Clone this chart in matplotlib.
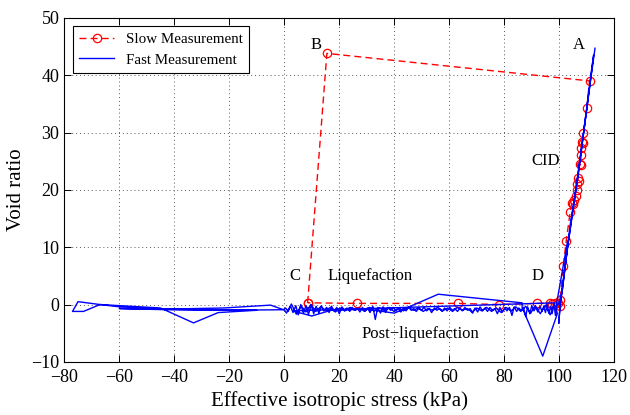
import numpy as np
import matplotlib.pyplot as plt

plt.rcParams['font.family'] = ['Liberation Serif', 'DejaVu Serif']

# slow measurement (red dashed, circles)
slow_x = [8.5, 15.5, 111.0, 110.0, 108.8, 108.3, 108.6, 108.0, 107.8, 108.0, 107.5,
          106.8, 107.0, 106.5, 106.3, 106.0, 105.5, 105.0, 104.5, 104.0, 102.5,
          101.5, 100.3, 100.2, 99.5, 98.5, 97.5, 96.5, 92.0, 78.0, 63.0, 26.5, 8.5]
slow_y = [0.3, 43.8, 39.0, 34.2, 30.0, 28.3, 28.2, 27.3, 26.0, 24.3, 24.5,
          22.0, 21.5, 21.0, 20.0, 19.0, 18.3, 17.5, 17.7, 16.2, 11.0,
          6.8, 0.8, -0.3, 0.3, 0.2, 0.1, 0.2, 0.2, 0.0, 0.2, 0.2, 0.3]

# fast measurement (blue solid)
steep_x = [113.0, 110.5, 108.0, 106.0, 104.5, 102.5, 100.5, 99.8, 100.2, 103.0,
           105.5, 107.5, 110.0, 112.5, 111.5, 107.0, 104.0, 101.0, 99.6]
steep_y = [44.7, 36.0, 27.0, 20.0, 15.0, 8.0, 1.0, -3.3, -1.0, 10.0,
           18.0, 25.0, 34.0, 43.5, 40.0, 23.0, 14.0, 2.0, 0.0]

band_x = [99.2, 98.6, 98.1, 97.4, 96.9, 96.2, 95.6, 95.0, 94.3, 93.7,
          93.0, 92.2, 91.5, 90.8, 90.0, 89.3, 88.5, 87.8, 87.0, 86.1,
          85.3, 84.5, 83.6, 82.8, 81.9, 81.0, 80.2, 79.3, 78.4, 77.5,
          76.6, 75.7, 74.8, 73.9, 73.0, 72.1, 71.2, 70.3, 69.4, 68.5,
          67.6, 66.6, 65.7, 64.8, 63.9, 63.0, 62.0, 61.1, 60.2, 59.2,
          58.3, 57.4, 56.4, 55.5, 54.6, 53.6, 52.7, 51.8, 50.8, 49.9,
          49.0, 48.0, 47.1, 46.2, 45.2, 44.3, 43.4, 42.4, 41.5, 40.6,
          39.6, 38.7, 37.8, 36.8, 35.9, 35.0, 34.0, 33.1, 32.2, 31.2,
          30.3, 29.4, 28.4, 27.5, 26.6, 25.6, 24.7, 23.8, 22.8, 21.9,
          21.0, 20.0, 19.1, 18.2, 17.2, 16.3, 15.4, 14.4, 13.5, 12.6,
          11.6, 10.7, 9.8, 8.8, 7.9, 7.0, 6.0, 5.1, 4.2, 3.2,
          2.3, 1.4, 0.5, -0.3]
band_y = [-0.2, -1.9, 0.1, -1.6, -0.3, -1.5, 0.2, -1.4, -0.4, -1.2,
          -0.3, -1.3, -0.5, -1.1, -0.2, -1.6, -0.4, -2.1, -0.5, -1.0,
          -0.6, -1.2, -0.4, -1.9, -0.5, -1.1, -0.6, -1.3, -0.5, -1.6,
          -0.7, -1.0, -0.5, -1.2, -0.6, -1.1, -0.4, -1.3, -0.6, -1.5,
          -0.7, -1.0, -0.5, -1.1, -0.6, -1.2, -0.7, -1.0, -0.5, -1.1,
          -0.6, -1.2, -0.7, -1.0, -0.6, -1.4, -0.7, -1.1, -0.5, -1.0,
          -0.6, -1.2, -0.7, -1.0, -0.5, -1.1, -0.6, -1.3, -0.7, -1.1,
          -0.5, -1.0, -0.6, -1.3, -0.4, -1.5, -0.5, -2.6, -0.3, -1.4,
          -0.6, -1.1, -0.5, -1.3, -0.6, -1.0, -0.5, -1.2, -0.6, -1.1,
          -0.4, -1.6, -0.5, -1.2, -0.3, -1.4, -0.5, -1.1, -0.2, -1.5,
          -0.3, -1.6, -0.1, -1.7, -0.2, -1.5, 0.0, -1.8, -0.2, -1.4,
          -0.3, -1.2, -0.6, -0.9]

left_x = [-5.0, -22.0, -43.0, -60.0, -67.0, -75.0, -77.0, -73.0, -67.0, -45.0,
          -33.0, -24.0, -10.0, -43.0, -60.0, -20.0, 0.0]
left_y = [-0.1, -0.6, -0.8, -0.4, 0.0, 0.5, -1.2, -1.2, 0.0, -0.6,
          -3.2, -1.4, -1.0, -0.9, -0.7, -1.0, -0.9]

band2_x = [0.8, 2.6, 4.4, 6.1, 7.9, 9.7, 11.5, 13.2, 15.0, 16.8,
           18.6, 20.3, 22.1, 23.9, 25.7, 27.4, 29.2, 31.0, 32.8, 34.5,
           36.3, 38.1, 39.9, 41.6, 43.4, 45.2, 47.0, 48.7, 50.5, 52.3,
           54.1, 55.8, 57.6, 59.4, 61.2, 62.9, 64.7, 66.5, 68.3, 70.0,
           71.8, 73.6, 75.4, 77.1, 78.9, 80.7, 82.5, 84.2, 86.0, 87.8,
           89.6, 91.3, 93.1, 94.9, 96.7, 98.4]
band2_y = [-1.5, 0.1, -1.7, -0.2, -1.3, 0.0, -1.2, -0.4, -1.0, -0.5,
           -1.3, -0.6, -1.1, -0.5, -1.0, -0.6, -1.2, -0.5, -1.1, -0.6,
           -1.0, -0.5, -1.2, -0.6, -1.1, -0.5, -1.0, -0.6, -1.2, -0.7,
           -1.0, -0.5, -1.1, -0.6, -1.2, -0.5, -1.0, -0.7, -1.3, -0.6,
           -1.1, -0.5, -1.2, -0.6, -1.4, -0.5, -1.1, -0.4, -1.2, -0.3,
           -1.5, -0.2, -1.6, -0.1, -1.8, 0.3]

back_x = [3.0, 10.0, 17.0, 30.0, 40.0, 43.0, 56.0, 86.5, 86.5, 94.0, 99.3, 98.8, 103.0]
back_y = [-1.1, -2.0, -1.0, -0.8, -1.5, -0.9, 1.8, 0.3, -0.5, -9.0, -1.6, -0.5, 11.0]

fast_x = steep_x + band_x + left_x + band2_x + back_x
fast_y = steep_y + band_y + left_y + band2_y + back_y

fig = plt.figure(figsize=(6.3, 4.15), dpi=100)
ax = fig.add_axes([0.102, 0.128, 0.873, 0.829])

ax.plot(slow_x, slow_y, 'r--o', mfc='none', ms=6, lw=1, mew=0.9,
        dashes=(5, 3), label='Slow Measurement', zorder=2)
ax.plot(fast_x, fast_y, '-', color='#0000ff', lw=1, label='Fast Measurement', zorder=3)

ax.set_xlim(-80, 120)
ax.set_ylim(-10, 50)
ax.set_xticks(np.arange(-80, 121, 20))
ax.set_yticks(np.arange(-10, 51, 10))
ax.grid(True, linestyle=(0, (1, 3)), color='0.35', lw=0.7)
ax.tick_params(direction='in', top=True, right=True, length=5, labelsize=13, width=0.7)
ax.tick_params(axis='x', pad=5)
for s in ax.spines.values():
    s.set_linewidth(0.8)

ax.set_xlabel('Effective isotropic stress (kPa)', fontsize=15, labelpad=4)
ax.set_ylabel('Void ratio', fontsize=15, labelpad=4)

ax.text(107.0, 45.2, 'A', fontsize=12, ha='center', va='center')
ax.text(11.6, 45.2, 'B', fontsize=12, ha='center', va='center')
ax.text(95.0, 25.1, 'CID', fontsize=12, ha='center', va='center')
ax.text(4.0, 4.9, 'C', fontsize=12, ha='center', va='center')
ax.text(31.3, 4.9, 'Liquefaction', fontsize=12, ha='center', va='center')
ax.text(92.0, 4.9, 'D', fontsize=12, ha='center', va='center')
ax.text(49.5, -5.2, 'Post\u2212liquefaction', fontsize=12, ha='center', va='center')

leg = ax.legend(loc='upper left', fontsize=10.8, fancybox=False, framealpha=1,
                edgecolor='black', borderpad=0.45, handlelength=2.3,
                labelspacing=0.45, borderaxespad=0.55)
leg.get_frame().set_linewidth(0.8)

fig.savefig('out.png', dpi=100)
